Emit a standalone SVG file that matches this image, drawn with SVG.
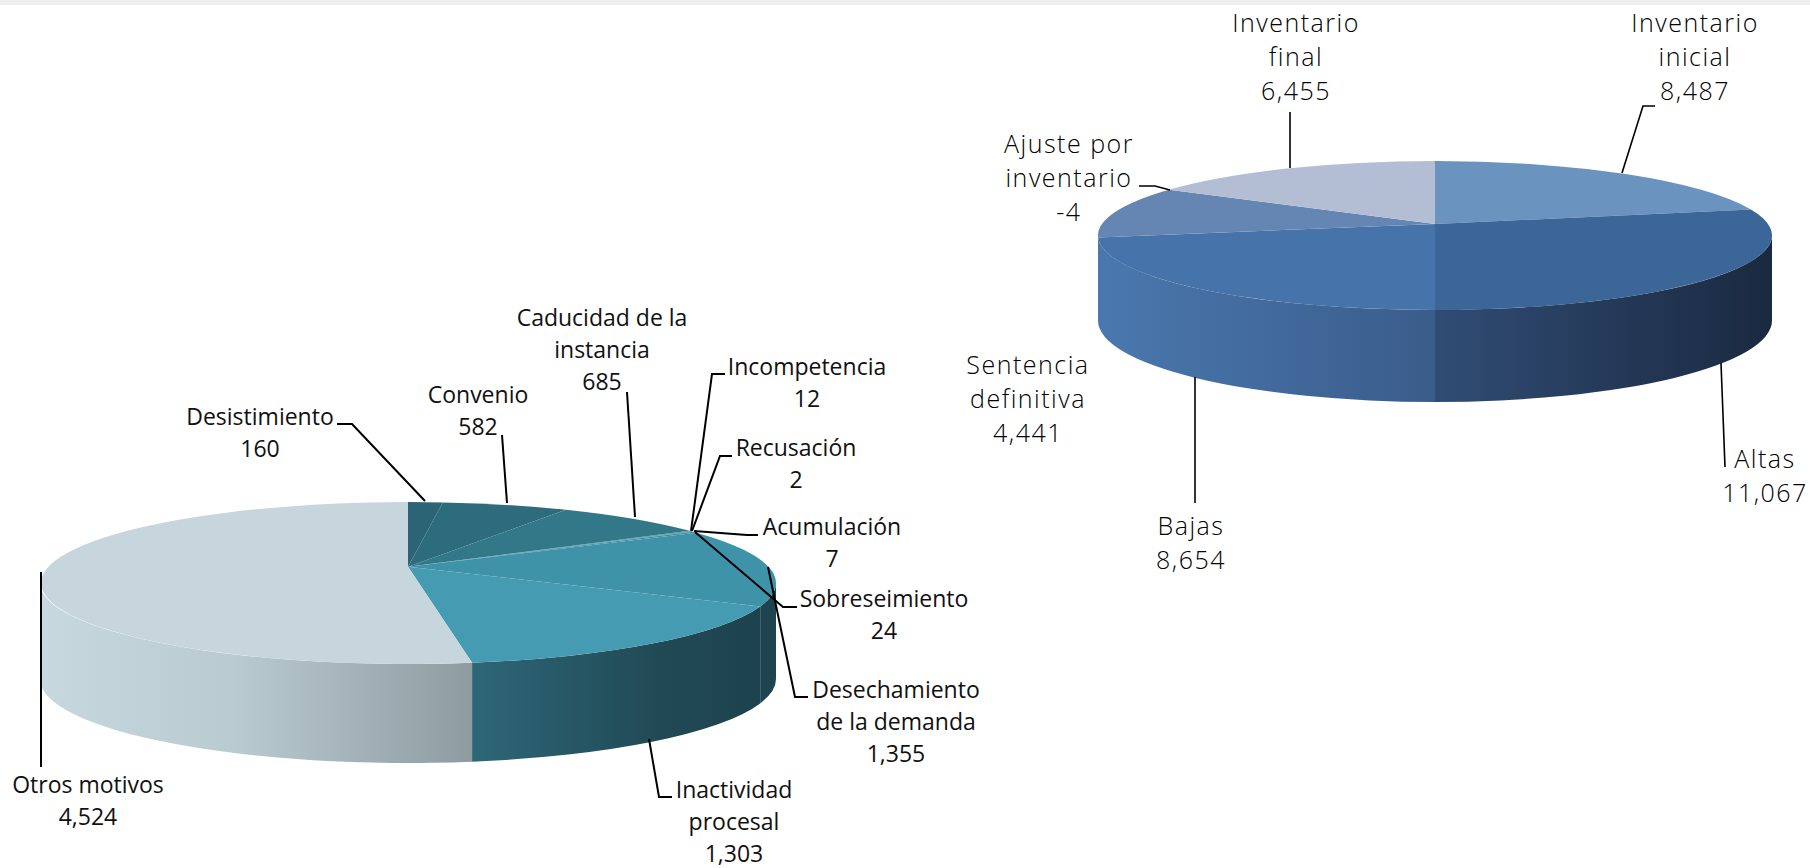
<svg xmlns="http://www.w3.org/2000/svg" width="1810" height="868" viewBox="0 0 1810 868">
<style>
.lt{font-family:"Open Sans","Noto Sans","Liberation Sans",sans-serif;font-size:23px;fill:#111;text-anchor:middle}
.rt{font-family:"Open Sans","Noto Sans","Liberation Sans",sans-serif;font-weight:300;font-size:25px;letter-spacing:1.5px;fill:#000;text-anchor:middle}
.ll{fill:none;stroke:#000;stroke-width:2}
.rl{fill:none;stroke:#000;stroke-width:1.6}
</style>
<defs>
<linearGradient id="gOtros" gradientUnits="userSpaceOnUse" x1="40" y1="0" x2="472" y2="0">
<stop offset="0" stop-color="#c7d8df"/><stop offset="0.45" stop-color="#b9cad1"/><stop offset="1" stop-color="#8e9ca1"/>
</linearGradient>
<linearGradient id="gInact" gradientUnits="userSpaceOnUse" x1="472" y1="0" x2="776" y2="0">
<stop offset="0" stop-color="#2e6778"/><stop offset="0.6" stop-color="#214a56"/><stop offset="1" stop-color="#1c414c"/>
</linearGradient>
<linearGradient id="gBajas" gradientUnits="userSpaceOnUse" x1="1098" y1="0" x2="1435" y2="0">
<stop offset="0" stop-color="#4a78ae"/><stop offset="1" stop-color="#3a5c8b"/>
</linearGradient>
<linearGradient id="gAltas" gradientUnits="userSpaceOnUse" x1="1435" y1="0" x2="1772" y2="0">
<stop offset="0" stop-color="#304c74"/><stop offset="1" stop-color="#1a2940"/>
</linearGradient>
</defs>
<rect x="0" y="0" width="1810" height="5" fill="#efefef"/>

<!-- Left pie: sides -->
<g id="left-pie-sides">
<path d="M40,583 A368,81 0 0 0 472.1,662.8 L472.1,761.7 A368,84 0 0 1 40,679 Z" fill="url(#gOtros)"/>
<path d="M472.1,662.8 A368,81 0 0 0 760.2,606.5 L760.2,703.4 A368,84 0 0 1 472.1,761.7 Z" fill="url(#gInact)"/>
<path d="M760.2,606.5 A368,81 0 0 0 776,583 L776,679 A368,84 0 0 1 760.2,703.4 Z" fill="#1e4450"/>
</g>
<!-- Left pie: slices -->
<g id="slice-desistimiento"><path d="M408,566.8 L408,502 A368,81 0 0 1 442.9,502.4 Z" fill="#2a6475"/></g>
<g id="slice-convenio"><path d="M408,566.8 L442.9,502.4 A368,81 0 0 1 565.9,509.8 Z" fill="#2d6c7d"/></g>
<g id="slice-caducidad"><path d="M408,566.8 L565.9,509.8 A368,81 0 0 1 689.5,530.8 Z" fill="#337888"/></g>
<g id="slice-incompetencia"><path d="M408,566.8 L689.5,530.8 A368,81 0 0 1 691.4,531.3 Z" fill="#3a879b"/></g>
<g id="slice-recusacion"><path d="M408,566.8 L691.4,531.3 A368,81 0 0 1 691.7,531.4 Z" fill="#3a879b"/></g>
<g id="slice-acumulacion"><path d="M408,566.8 L691.7,531.4 A368,81 0 0 1 692.7,531.7 Z" fill="#3b8a9f"/></g>
<g id="slice-sobreseimiento"><path d="M408,566.8 L692.7,531.7 A368,81 0 0 1 696.3,532.7 Z" fill="#3c8ea3"/></g>
<g id="slice-desechamiento"><path d="M408,566.8 L696.3,532.7 A368,81 0 0 1 760.2,606.5 Z" fill="#3f93a9"/></g>
<g id="slice-inactividad"><path d="M408,566.8 L760.2,606.5 A368,81 0 0 1 472.1,662.8 Z" fill="#459cb2"/></g>
<g id="slice-otros"><path d="M408,566.8 L472.1,662.8 A368,81 0 1 1 408,502 Z" fill="#c6d6dc"/></g>

<!-- Right pie: sides -->
<g id="right-pie-sides">
<path d="M1098,235.5 A337,74.5 0 0 0 1435,310 L1435,402 A337,81.5 0 0 1 1098,320.5 Z" fill="url(#gBajas)"/>
<path d="M1435,310 A337,74.5 0 0 0 1772,235.5 L1772,320.5 A337,81.5 0 0 1 1435,402 Z" fill="url(#gAltas)"/>
</g>
<!-- Right pie: slices -->
<g id="slice-inventario-inicial"><path d="M1435,224 L1435,161 A337,74.5 0 0 1 1750.9,209.5 Z" fill="#6a93bf"/></g>
<g id="slice-altas"><path d="M1435,224 L1750.9,209.5 A337,74.5 0 0 1 1435,310 Z" fill="#3c6598"/></g>
<g id="slice-bajas"><path d="M1435,224 L1435,310 A337,74.5 0 0 1 1098.1,237.5 Z" fill="#4673a9"/></g>
<g id="slice-sentencia"><path d="M1435,224 L1098.1,237.5 A337,74.5 0 0 1 1169,189.75 Z" fill="#6585b3"/></g>
<g id="slice-inventario-final"><path d="M1435,224 L1169,189.75 A337,74.5 0 0 1 1435,161 Z" fill="#b3bed4"/></g>

<!-- Connectors (leader lines) -->
<g id="connectors">
<polyline class="ll" points="337,424 352,424 425,501"/>
<polyline class="ll" points="502,435 507,503"/>
<polyline class="ll" points="627,392 635,517"/>
<polyline class="ll" points="725,374 712,374 691,531"/>
<polyline class="ll" points="732,456 720,456 692,531"/>
<polyline class="ll" points="694,531 747,535 758,535"/>
<polyline class="ll" points="695,532 783,607 797,607"/>
<polyline class="ll" points="768,567 795,697 808,697"/>
<polyline class="ll" points="649,739 659,797 672,797"/>
<polyline class="ll" points="41,572 41,767"/>
<polyline class="rl" points="1290,112 1290,168"/>
<polyline class="rl" points="1655,106 1643,106 1622,173"/>
<polyline class="rl" points="1139,186 1155,186 1170,190"/>
<polyline class="rl" points="1195,377 1195,503"/>
<polyline class="rl" points="1721,363 1725,467"/>
</g>

<!-- Left labels -->
<g id="label-desistimiento"><text class="lt" x="260" y="425">Desistimiento<tspan x="260" dy="32">160</tspan></text></g>
<g id="label-convenio"><text class="lt" x="478" y="403">Convenio<tspan x="478" dy="32">582</tspan></text></g>
<g id="label-caducidad"><text class="lt" x="602" y="326">Caducidad de la<tspan x="602" dy="32">instancia</tspan><tspan x="602" dy="32">685</tspan></text></g>
<g id="label-incompetencia"><text class="lt" x="807" y="375">Incompetencia<tspan x="807" dy="32">12</tspan></text></g>
<g id="label-recusacion"><text class="lt" x="796" y="456">Recusación<tspan x="796" dy="32">2</tspan></text></g>
<g id="label-acumulacion"><text class="lt" x="832" y="535">Acumulación<tspan x="832" dy="32">7</tspan></text></g>
<g id="label-sobreseimiento"><text class="lt" x="884" y="607">Sobreseimiento<tspan x="884" dy="32">24</tspan></text></g>
<g id="label-desechamiento"><text class="lt" x="896" y="698">Desechamiento<tspan x="896" dy="32">de la demanda</tspan><tspan x="896" dy="32">1,355</tspan></text></g>
<g id="label-inactividad"><text class="lt" x="734" y="798">Inactividad<tspan x="734" dy="32">procesal</tspan><tspan x="734" dy="32">1,303</tspan></text></g>
<g id="label-otros"><text class="lt" x="88" y="793">Otros motivos<tspan x="88" dy="32">4,524</tspan></text></g>

<!-- Right labels -->
<g id="label-inventario-final"><text class="rt" x="1296" y="32">Inventario<tspan x="1296" dy="34">final</tspan><tspan x="1296" dy="34">6,455</tspan></text></g>
<g id="label-inventario-inicial"><text class="rt" x="1695" y="32">Inventario<tspan x="1695" dy="34">inicial</tspan><tspan x="1695" dy="34">8,487</tspan></text></g>
<g id="label-ajuste"><text class="rt" x="1069" y="153">Ajuste por<tspan x="1069" dy="34">inventario</tspan><tspan x="1069" dy="34">-4</tspan></text></g>
<g id="label-sentencia"><text class="rt" x="1028" y="374">Sentencia<tspan x="1028" dy="34">definitiva</tspan><tspan x="1028" dy="34">4,441</tspan></text></g>
<g id="label-bajas"><text class="rt" x="1191" y="535">Bajas<tspan x="1191" dy="34">8,654</tspan></text></g>
<g id="label-altas"><text class="rt" x="1765" y="468">Altas<tspan x="1765" dy="34">11,067</tspan></text></g>
</svg>
